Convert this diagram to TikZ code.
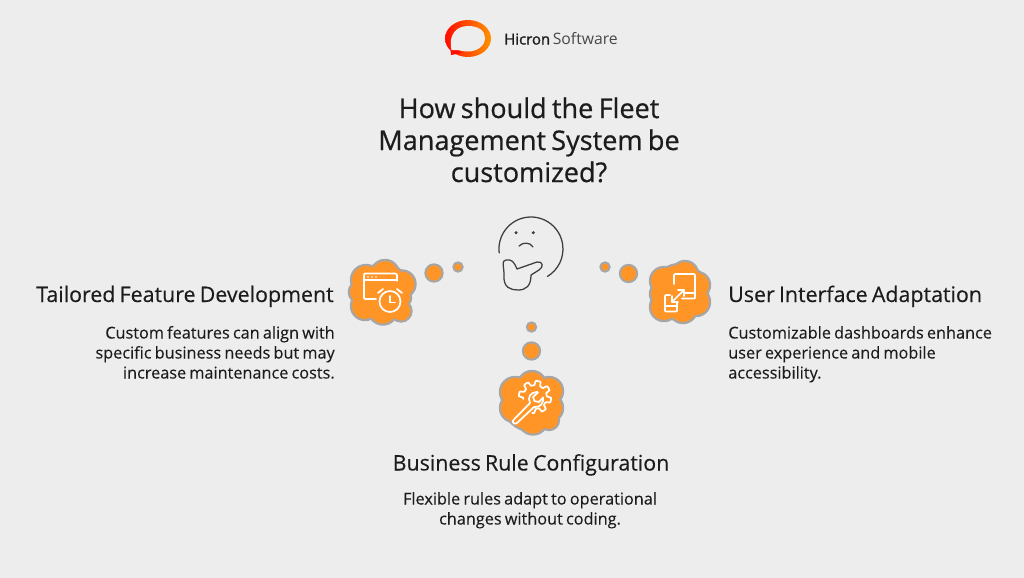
\documentclass[tikz,border=0pt]{standalone}
\usepackage{fontspec}
\setmainfont[WordSpace=0.75]{Open Sans}
\newfontfamily\medfont[FakeBold=0.6,WordSpace=0.75]{Open Sans}
\newfontfamily\logofont[FakeBold=1.3]{Open Sans}
\newfontfamily\headfont[FakeBold=0.3,WordSpace=0.75]{Open Sans}
\newfontfamily\bodyfont[FakeBold=0.12,WordSpace=0.75]{Open Sans}
\definecolor{bg}{HTML}{EDEDED}
\definecolor{orng}{HTML}{FF9526}
\definecolor{rimgray}{HTML}{A6A6A6}
\definecolor{ink}{HTML}{1C1C1C}
\tikzset{
  x=0.75pt,y=-0.75pt,
  title/.style={font=\medfont\fontsize{20.3}{24}\selectfont,text=ink,anchor=base,inner sep=0pt},
  heading/.style={font=\headfont\fontsize{16.05}{19}\selectfont,text=ink,anchor=base,inner sep=0pt},
  body/.style={font=\bodyfont\fontsize{12.2}{15}\selectfont,text=ink,anchor=base,inner sep=0pt},
  bubble/.style={circle,fill=orng,draw=rimgray,line width=1.5pt,inner sep=0pt},
  icon/.style={draw=white,line width=1.3pt,line cap=round,line join=round},
  face/.style={draw=ink!85,line width=0.95pt,line cap=round,line join=round}
}
\newcommand{\blob}[1]{%
  \foreach \cx/\cy/\cr in {#1} {\fill[rimgray] (\cx,\cy) circle ({\cr+2.2});}
  \foreach \cx/\cy/\cr in {#1} {\fill[orng] (\cx,\cy) circle (\cr);}
}
\begin{document}
\begin{tikzpicture}
\useasboundingbox (0,0) rectangle (1024,578);
\fill[bg] (0,0) rectangle (1024,578);

% logo
\shade[left color=red!90!orange,right color=orange!85!yellow]
  (468,38.5) ellipse [x radius=23,y radius=18.5];
\fill[red!90!orange] (450,44) -- (451,55) -- (462,53) -- cycle;
\fill[bg] (451.5,50) .. controls (448,34) and (457,26) .. (468,26)
   .. controls (479,26) and (485,31) .. (485,38)
   .. controls (485,46) and (477,51.5) .. (468,51.5)
   .. controls (463,51.5) and (459,50) .. (456,50) -- cycle;
\node[inner sep=0pt,anchor=base west] (logotext1) at (504,44.5)
  {\logofont\fontsize{11.2}{14}\selectfont\textcolor{ink}{Hicron}};
\node[inner sep=0pt,anchor=base east] (logotext2) at (618,44.5)
  {\fontsize{11.8}{14}\selectfont\textcolor{ink!80}{Software}};

% title
\node[title] (t1) at (529,118) {How should the Fleet};
\node[title] (t2) at (529,150) {Management System be};
\node[title] (t3) at (529,182) {customized?};

% thinking face
\draw[face] (499.2,252.9) arc[start angle=173,end angle=419,radius=32];
\fill[ink!85] (516,232.7) circle (1.7);
\fill[ink!85] (533.3,232.7) circle (1.7);
\draw[face] (519,246) .. controls (523,242) and (530,242) .. (533,247);
\draw[face] (506,260) .. controls (501,261) and (504,265) .. (504,275)
  .. controls (503,288) and (511,290) .. (518,290)
  .. controls (526,290) and (531,286) .. (531,275)
  -- (539,270) .. controls (544,267) and (543,261) .. (537,262)
  -- (517,269) .. controls (514,262) and (512,259) .. (506,260) -- cycle;

% bubbles
\node[bubble,minimum size=13pt] (b1) at (434,273) {};
\node[bubble,minimum size=7pt] (b2) at (458,267) {};
\node[bubble,minimum size=7pt] (b3) at (605,267) {};
\node[bubble,minimum size=13pt] (b4) at (628.5,273.5) {};
\node[bubble,minimum size=7pt] (b5) at (531.5,327) {};
\node[bubble,minimum size=13pt] (b6) at (531.5,351) {};

% left cloud
\blob{366/280/14, 385/274/13, 402/284/12.5, 402/298/8, 401/311/9.5, 383/310/13.5, 365/306/13, 361/292/11, 383/292/27}
\draw[icon] (397,281) -- (397,276) .. controls (397,274) .. (395,273.5) -- (366,273.5)
  .. controls (364,273.5) .. (364,276) -- (364,297) .. controls (364,299) .. (366,299) -- (376,299);
\draw[icon] (364,280) -- (397,280);
\fill[white] (368,277) circle (.9) (372,277) circle (.9) (376,277) circle (.9);
\draw[icon] (390,301.5) circle (10.5);
\draw[icon] (390,296) -- (390,302.5) -- (395,302.5);
\draw[icon] (378,293) -- (383,289);
\draw[icon] (402,293) -- (397,289);

% right cloud
\blob{664/281/13, 685/274/12, 697/285/12, 696/302/13, 683/309/13, 664/307/13, 662/294/11, 680/292/27}
\draw[icon] (674,284) -- (674,276) .. controls (674,274) .. (676,274) -- (693,274)
  .. controls (695,274) .. (695,276) -- (695,297) .. controls (695,298.5) .. (693,298.5) -- (682,298.5);
\draw[icon] (695,293) -- (684,293);
\draw[icon] (677,302) -- (677,310) .. controls (677,311.5) .. (675,311.5) -- (667,311.5)
  .. controls (665,311.5) .. (665,310) -- (665,297) .. controls (665,295) .. (667,295) -- (670,295);
\draw[icon] (665,306) -- (677,306);
\draw[icon] (672,302) -- (684,290);
\draw[icon] (672,296) -- (672,302) -- (678,302);
\draw[icon] (678,290) -- (684,290) -- (684,296);

% bottom cloud
\blob{515/392/14, 532/385/13, 549/391/13, 549/408/13, 549/420/9, 533/420/13.5, 514/408/13, 531/403/27}
\draw[icon,smooth] plot[domain=170:460,samples=117] ({535+(14+2.2*max(min(2.5*sin(8*\x),1),-1))*cos(\x)},{397+(14+2.2*max(min(2.5*sin(8*\x),1),-1))*sin(\x)});
\fill[orng] (533,398) circle (9);
\draw[icon] (513.5,420) -- (530,403) .. controls (527,397) and (531,392) .. (537,392) -- (538,392.5) -- (533,397) -- (534.5,401) -- (539,402) -- (543,397.5)
  .. controls (544,403) and (540,408) .. (534,407) -- (517,423) .. controls (515,425) and (511,422) .. (513.5,420) -- cycle;

% text
\node[heading,anchor=base east] (h1) at (334,302) {Tailored Feature Development};
\node[body,anchor=base east] (l1a) at (335,338.5) {Custom features can align with};
\node[body,anchor=base east] (l1b) at (335,358.5) {specific business needs but may};
\node[body,anchor=base east] (l1c) at (335,378.5) {increase maintenance costs.};

\node[heading,anchor=base west] (h2) at (728,302) {User Interface Adaptation};
\node[body,anchor=base west] (l2a) at (728,338.5) {Customizable dashboards enhance};
\node[body,anchor=base west] (l2b) at (728,358.5) {user experience and mobile};
\node[body,anchor=base west] (l2c) at (728,378.5) {accessibility.};

\node[heading] (h3) at (531,470.5) {Business Rule Configuration};
\node[body] (l3a) at (530,504.5) {Flexible rules adapt to operational};
\node[body] (l3b) at (530,524.5) {changes without coding.};
\end{tikzpicture}
\end{document}
